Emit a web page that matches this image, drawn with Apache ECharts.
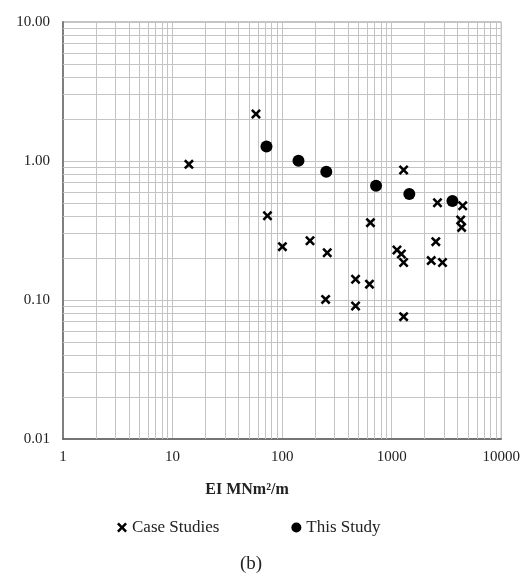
<!DOCTYPE html>
<html><head><meta charset="utf-8">
<script src="https://cdn.jsdelivr.net/npm/echarts@6/dist/echarts.min.js"></script>
<style>html,body{margin:0;padding:0;background:#fff}#c{width:523px;height:576px}</style>
</head><body><div id="c"></div>
<script>
// Case Studies (x marks)
const caseX = [14.1, 57.7, 73.5, 100.6, 179.7, 258, 249.5, 1285, 640, 468, 627, 468, 1285, 1117, 1225, 1285, 2618, 2528, 2296, 2909, 4448, 4266, 4350];
const caseY = [0.946, 2.18, 0.404, 0.242, 0.267, 0.219, 0.101, 0.862, 0.36, 0.141, 0.130, 0.0906, 0.0759, 0.229, 0.214, 0.186, 0.501, 0.263, 0.192, 0.186, 0.477, 0.376, 0.333];
// This Study (filled circles)
const studyX = [72, 141, 253, 720, 1449, 3586];
const studyY = [1.27, 1.005, 0.838, 0.664, 0.579, 0.516];
// axis ticks
const xTicks = [1, 10, 100, 1000, 10000];
const yTicks = [0.01, 0.1, 1, 10];
const xTitle = 'EI MNm\u00B2/m';
const caption = '(b)';
const seriesNames = ['Case Studies', 'This Study'];

const FONT = '"Liberation Serif", "DejaVu Serif", serif';
const GRID_C = '#c4c4c4';
const crossPath = 'path://M1.8,0 L5,3.2 L8.2,0 L10,1.8 L6.8,5 L10,8.2 L8.2,10 L5,6.8 L1.8,10 L0,8.2 L3.2,5 L0,1.8 Z';

// minor gridlines at 2..9 x 10^k
const minorLines = [];
for (let i = 0; i < xTicks.length - 1; i++) {
  for (let m = 2; m <= 9; m++) minorLines.push({ xAxis: xTicks[i] * m });
}
for (let i = 0; i < yTicks.length - 1; i++) {
  for (let m = 2; m <= 9; m++) minorLines.push({ yAxis: +(yTicks[i] * m).toPrecision(3) });
}

const chart = echarts.init(document.getElementById('c'), null, { renderer: 'canvas' });
chart.setOption({
  animation: false,
  backgroundColor: '#fff',
  grid: { left: 63, right: 19, top: 22, bottom: 137, show: true, borderColor: '#8c8c8c', borderWidth: 1 },
  xAxis: {
    type: 'log', logBase: 10, min: xTicks[0], max: xTicks[xTicks.length - 1],
    axisLine: { show: true, lineStyle: { color: '#595959', width: 1.5 } },
    axisTick: { show: false },
    splitLine: { show: true, lineStyle: { color: GRID_C, width: 1 } },
    axisLabel: { margin: 11, fontFamily: FONT, fontSize: 15, color: '#222', formatter: v => String(Math.round(v)) }
  },
  yAxis: {
    type: 'log', logBase: 10, min: yTicks[0], max: yTicks[yTicks.length - 1],
    axisLine: { show: true, lineStyle: { color: '#7f7f7f', width: 2 } },
    axisTick: { show: false },
    splitLine: { show: true, lineStyle: { color: GRID_C, width: 1 } },
    axisLabel: { margin: 13, fontFamily: FONT, fontSize: 15, color: '#222', formatter: v => (+v).toFixed(2) }
  },
  legend: {
    left: 112, top: 514, itemGap: 72, itemWidth: 10, itemHeight: 10,
    textStyle: { fontFamily: FONT, fontSize: 17, color: '#222' },
    data: [{ name: seriesNames[0], icon: crossPath }, { name: seriesNames[1], icon: 'circle' }]
  },
  graphic: [
    { type: 'text', x: 247, y: 490, style: { text: xTitle, font: 'bold 16px ' + FONT, fill: '#222', textAlign: 'center', textVerticalAlign: 'middle' } },
    { type: 'text', x: 251, y: 564, style: { text: caption, font: '19px ' + FONT, fill: '#222', textAlign: 'center', textVerticalAlign: 'middle' } }
  ],
  series: [
    {
      type: 'scatter', name: '_grid', data: [], z: 1, silent: true,
      markLine: { silent: true, z: 1, symbol: 'none', label: { show: false }, animation: false,
        emphasis: { disabled: true },
        lineStyle: { color: GRID_C, width: 1, type: 'solid' }, data: minorLines }
    },
    {
      type: 'scatter', name: seriesNames[0], z: 3, symbol: crossPath, symbolSize: 10,
      itemStyle: { color: '#000', opacity: 1 },
      data: caseX.map((x, i) => [x, caseY[i]])
    },
    {
      type: 'scatter', name: seriesNames[1], z: 4, symbol: 'circle', symbolSize: 12,
      itemStyle: { color: '#000', opacity: 1 },
      data: studyX.map((x, i) => [x, studyY[i]])
    }
  ]
});
</script>
</body></html>
